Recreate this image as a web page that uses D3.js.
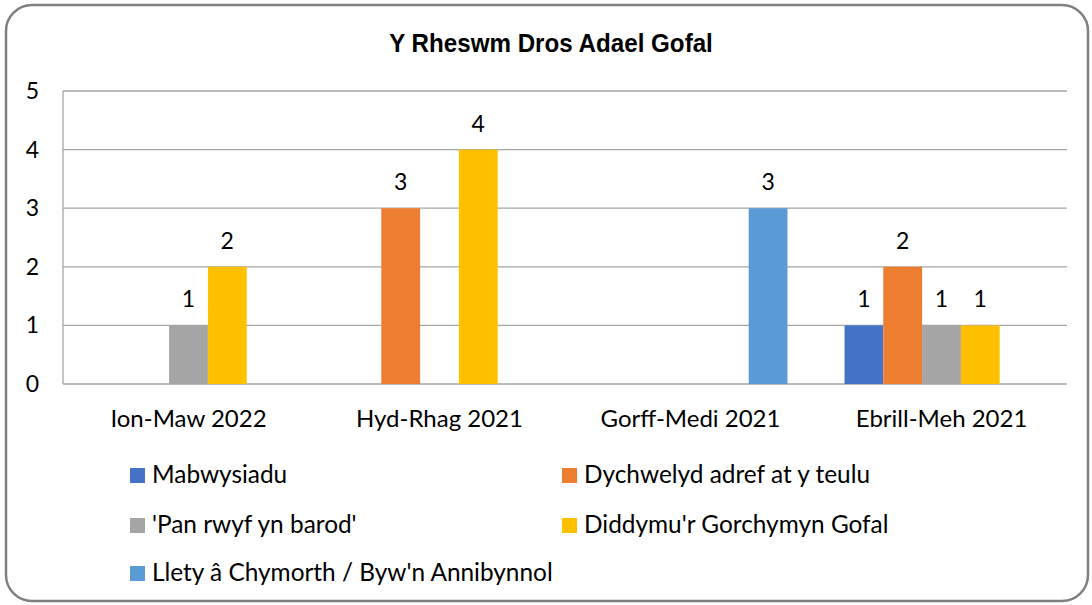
<!DOCTYPE html>
<html>
<head>
<meta charset="utf-8">
<script src="https://cdn.jsdelivr.net/npm/d3@7"></script>
<style>
  body { margin: 0; background: #fff; }
  text { font-family: Lato, "Open Sans", sans-serif; fill: #000; }
</style>
</head>
<body>
<svg id="chart" width="1092" height="605"></svg>
<script>
// categories + series
var categories = ["Ion-Maw 2022", "Hyd-Rhag 2021", "Gorff-Medi 2021", "Ebrill-Meh 2021"];
var seriesNames = ["Mabwysiadu", "Dychwelyd adref at y teulu", "'Pan rwyf yn barod'",
                   "Diddymu'r Gorchymyn Gofal", "Llety â Chymorth / Byw'n Annibynnol"];
var seriesColors = ["#4472C4", "#ED7D31", "#A5A5A5", "#FFC000", "#5B9BD5"];
var mabwysiadu = [0, 0, 0, 1];
var dychwelyd = [0, 3, 0, 2];
var panRwyf = [1, 0, 0, 1];
var diddymu = [2, 4, 0, 1];
var llety = [0, 0, 3, 0];
var yTicks = [0, 1, 2, 3, 4, 5];

var allSeries = [mabwysiadu, dychwelyd, panRwyf, diddymu, llety];

var svg = d3.select("#chart");
// plot box (note: "top" clashes with window.top, so pTop)
var pLeft = 63, pRight = 1067, pTop = 91, pBottom = 384;

// frame
svg.append("rect").attr("x", 6).attr("y", 5).attr("width", 1082).attr("height", 596)
   .attr("rx", 26).attr("fill", "#fff").attr("stroke", "#808080").attr("stroke-width", 2.5);

// title - narrow bold look, squeeze it a bit horizontally
svg.append("text").attr("transform", "translate(551,52) scale(0.93,1)")
   .attr("text-anchor", "middle")
   .style("font-family", "'Liberation Sans Narrow', 'Liberation Sans', sans-serif")
   .style("font-weight", "bold").style("font-size", "26px")
   .text("Y Rheswm Dros Adael Gofal");

var x0 = d3.scaleBand().domain(categories).range([pLeft, pRight]).padding(0);
var x1 = d3.scaleBand().domain(d3.range(seriesNames.length)).range([0, x0.bandwidth()])
           .paddingInner(0).paddingOuter(0.735);
var y = d3.scaleLinear().domain([0, 5]).range([pBottom, pTop]);

// gridlines
svg.append("g").selectAll("line").data(yTicks).join("line")
   .attr("x1", pLeft).attr("x2", pRight)
   .attr("y1", d => y(d)).attr("y2", d => y(d))
   .attr("stroke", "#a6a6a6").attr("stroke-width", 1.3);

svg.append("line").attr("x1", pLeft).attr("x2", pLeft).attr("y1", pTop).attr("y2", pBottom)
   .attr("stroke", "#a6a6a6").attr("stroke-width", 1.3);

svg.append("g").selectAll("text").data(yTicks).join("text")
   .attr("x", 39).attr("y", d => y(d) + 8).attr("text-anchor", "end")
   .style("font-size", "23px").text(d => d);

// bars
var flat = [];
allSeries.forEach(function (vals, si) {
  vals.forEach(function (v, ci) {
    flat.push({ s: si, c: categories[ci], v: v });
  });
});

var bars = svg.append("g");
bars.selectAll("rect").data(flat.filter(d => d.v > 0)).join("rect")
    .attr("x", d => x0(d.c) + x1(d.s))
    .attr("width", x1.bandwidth())
    .attr("y", d => y(d.v))
    .attr("height", d => y(0) - y(d.v))
    .attr("fill", d => seriesColors[d.s]);

bars.selectAll("text").data(flat.filter(d => d.v > 0)).join("text")
    .attr("x", d => x0(d.c) + x1(d.s) + x1.bandwidth() / 2)
    .attr("y", d => y(d.v) - 18)
    .attr("text-anchor", "middle").style("font-size", "23px")
    .text(d => d.v);

// category labels
svg.append("g").selectAll("text").data(categories).join("text")
   .attr("x", d => x0(d) + x0.bandwidth() / 2).attr("y", 427)
   .attr("text-anchor", "middle").style("font-size", "24px").text(d => d);

// legend, 2 columns
var legX = [130, 562], legY = [475, 525, 573];
var leg = svg.append("g").selectAll("g").data(seriesNames).join("g")
   .attr("transform", (d, i) => "translate(" + legX[i % 2] + "," + legY[Math.floor(i / 2)] + ")");
leg.append("rect").attr("x", 0).attr("y", -7).attr("width", 15).attr("height", 15)
   .attr("fill", (d, i) => seriesColors[i]);
leg.append("text").attr("x", 22).attr("y", 8).style("font-size", "24.4px").text(d => d);
</script>
</body>
</html>
